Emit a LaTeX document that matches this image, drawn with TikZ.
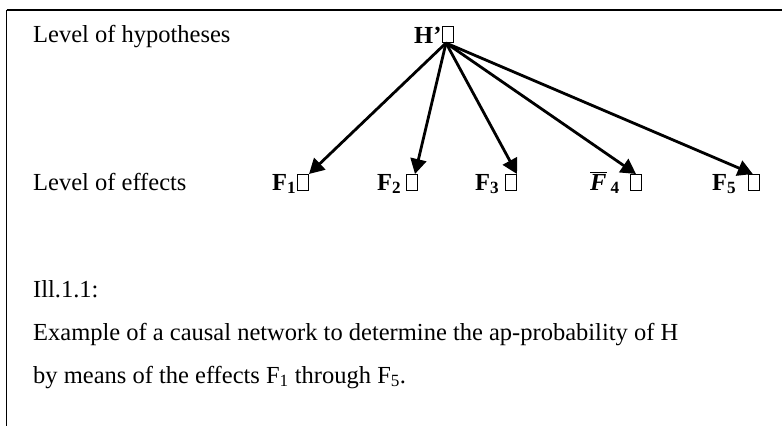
\documentclass[tikz,border=0pt]{standalone}
\usepackage{fontspec}
\setmainfont{Liberation Serif}
\usetikzlibrary{arrows.meta,calc}
\begin{document}
\begin{tikzpicture}[x=1pt,y=-1pt,
  txt/.style={anchor=base west,inner sep=0pt,font=\fontsize{24.5}{28}\selectfont},
  lbl/.style={anchor=base west,inner sep=0pt,font=\fontsize{24.5}{28}\selectfont\bfseries},
  sq/.style={draw,line width=1pt,minimum width=11pt,minimum height=16pt,inner sep=0pt,anchor=south west},
  arr/.style={line width=2.8pt,-{Triangle[length=15pt,width=16pt]}},
  frame/.style={line width=1.2pt}]
\useasboundingbox (0,0) rectangle (784,426);
\draw[frame] (6.5,10) -- (782,10);
\draw[frame] (6.5,10) -- (6.5,426);
% level texts
\node[txt] (lh) at (33,42) {Level of hypotheses};
\node[txt] (le) at (33,190) {Level of effects};
% hypothesis
\node[lbl] (h) at (414,43) {H'};
\node[sq] (b0) at (442,43) {};
% effects
\node[lbl] (f1) at (272,190) {F\textsubscript{1}};
\node[sq] (b1) at (297,191) {};
\node[lbl] (f2) at (377,190) {F\textsubscript{2}};
\node[sq] (b2) at (406,191) {};
\node[lbl] (f3) at (475,190) {F\textsubscript{3}};
\node[sq] (b3) at (505,191) {};
\node[lbl] (f4) at (590,190) {$\overline{\hbox{\itshape F}}$\,\textsubscript{4}};
\node[sq] (b4) at (630,191) {};
\node[lbl] (f5) at (712,190) {F\textsubscript{5}};
\node[sq] (b5) at (748,191) {};
% arrows
\coordinate (o) at ($(b0.south)+(-2,0)$);
\draw[arr] (o) -- (b1.north east);
\draw[arr] (o) -- ($(b2.north)!0.5!(b2.north east)$);
\draw[arr] (o) -- (b3.north east);
\draw[arr] (o) -- (b4.north);
\draw[arr] (o) -- ($(b5.north west)!0.4!(b5.north east)$);
% caption
\node[txt] (c1) at (33,297) {Ill.1.1:};
\node[txt] (c2) at (33,340) {Example of a causal network to determine the ap-probability of H};
\node[txt] (c3) at (33,383) {by means of the effects F\textsubscript{1} through F\textsubscript{5}.};
\end{tikzpicture}
\end{document}
